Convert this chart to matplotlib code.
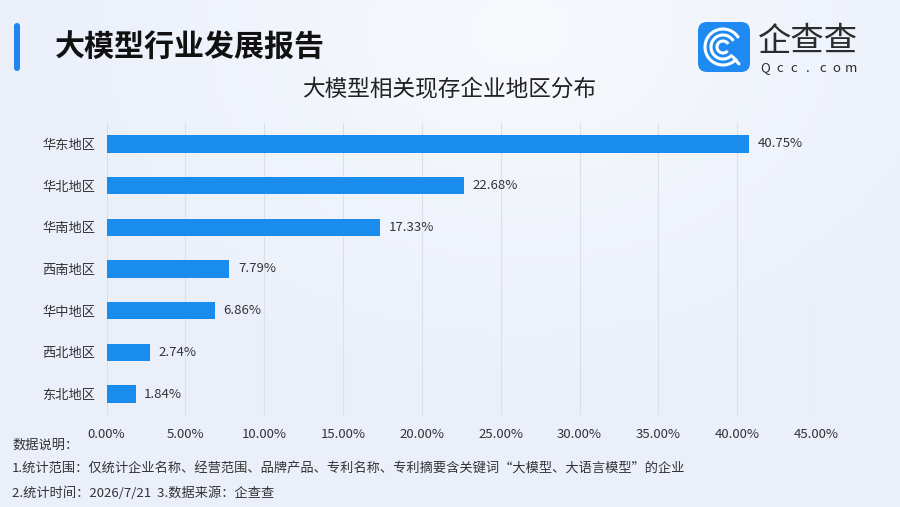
import numpy as np
import matplotlib
matplotlib.use('Agg')
import matplotlib.pyplot as plt
from matplotlib.patches import FancyBboxPatch, Arc
import matplotlib.ticker as mticker

plt.rcParams['font.family'] = ['Noto Sans CJK SC', 'DejaVu Sans']

# data
regions = ['华东地区', '华北地区', '华南地区', '西南地区', '华中地区', '西北地区', '东北地区']
shares = [40.75, 22.68, 17.33, 7.79, 6.86, 2.74, 1.84]
xticks = [0, 5, 10, 15, 20, 25, 30, 35, 40, 45]

title = '大模型行业发展报告'
subtitle = '大模型相关现存企业地区分布'
note_head = '数据说明：'
note_1 = '1.统计范围：仅统计企业名称、经营范围、品牌产品、专利名称、专利摘要含关键词“大模型、大语言模型”的企业'
note_2 = '2.统计时间：2026/7/21  3.数据来源：企查查'

W, H = 900, 507
BAR = '#1a8ced'
TXT = '#333333'

fig = plt.figure(figsize=(9, 5.07), dpi=100)

# soft bluish background
bg = fig.add_axes([0, 0, 1, 1], zorder=-10)
yy, xx = np.mgrid[0:H, 0:W]
d = np.sqrt(((xx - 520) / 520.0) ** 2 + ((yy - 30) / 380.0) ** 2)
t = np.clip(d, 0, 1)[..., None]
c0 = np.array([247, 249, 253]) / 255.0
c1 = np.array([234, 239, 250]) / 255.0
img = c0 * (1 - t) + c1 * t
bg.imshow(img, extent=[0, W, H, 0], aspect='auto')
bg.set_xlim(0, W)
bg.set_ylim(H, 0)
bg.axis('off')

# main bar chart
ax = fig.add_axes([106.5 / W, 1 - 415 / H, (816 - 106.5) / W, (415 - 123) / H])
ax.set_facecolor('none')
ypos = np.arange(len(regions))
ax.barh(ypos, shares, height=0.42, color=BAR, zorder=3)
for y, v in zip(ypos, shares):
    ax.text(v + 0.55, y, f'{v:.2f}%', va='center', ha='left', fontsize=9.5, color=TXT)
ax.set_yticks(ypos)
ax.set_yticklabels(regions, fontsize=9.5, color=TXT)
ax.set_ylim(len(regions) - 0.5, -0.5)
ax.set_xlim(0, 45)
ax.set_xticks(xticks)
ax.xaxis.set_major_formatter(mticker.FuncFormatter(lambda v, p: f'{v:.2f}%'))
ax.tick_params(axis='x', length=0, pad=9, labelsize=9.5, labelcolor=TXT)
ax.tick_params(axis='y', length=0, pad=8)
ax.grid(axis='x', color='#dcdfe6', linewidth=0.8, zorder=0)
for s in ax.spines.values():
    s.set_visible(False)

# overlay in pixel coordinates for header / footer
ov = fig.add_axes([0, 0, 1, 1], zorder=5)
ov.set_xlim(0, W)
ov.set_ylim(H, 0)
ov.axis('off')

ov.add_patch(FancyBboxPatch((14, 23), 6, 48, boxstyle='round,pad=0,rounding_size=3',
                            facecolor='#1f86f0', edgecolor='none'))
ov.text(55, 47, title, fontsize=21.6, fontweight='bold', color='#111111', va='center', ha='left')
ov.text(449, 90, subtitle, fontsize=16.3, color='#222222', va='center', ha='center')

# logo
ov.add_patch(FancyBboxPatch((698, 22), 52, 50, boxstyle='round,pad=0,rounding_size=9',
                            facecolor='#1f8af2', edgecolor='none'))
cx, cy = 723, 47
for r in (36, 24, 12):
    ov.add_patch(Arc((cx, cy), r, r, theta1=40, theta2=330, color='white', linewidth=2.2))
ov.plot([cx + 10, cx + 16], [cy + 10, cy + 17], color='white', linewidth=2.2, solid_capstyle='round')
ov.text(758, 51, '企查查', fontsize=24, color='#2b2b2b', va='baseline', ha='left')
for i, ch in enumerate('Qcc.com'):
    ov.text(765 + i * 14.3, 68, ch, fontsize=9.5, color='#2b2b2b', va='center', ha='center')

# footer notes
ov.text(12, 445, note_head, fontsize=9.5, color=TXT, va='center', ha='left')
ov.text(12, 469, note_1, fontsize=9.5, color=TXT, va='center', ha='left')
ov.text(12, 493, note_2, fontsize=9.5, color=TXT, va='center', ha='left')

fig.savefig('out.png', dpi=100)
